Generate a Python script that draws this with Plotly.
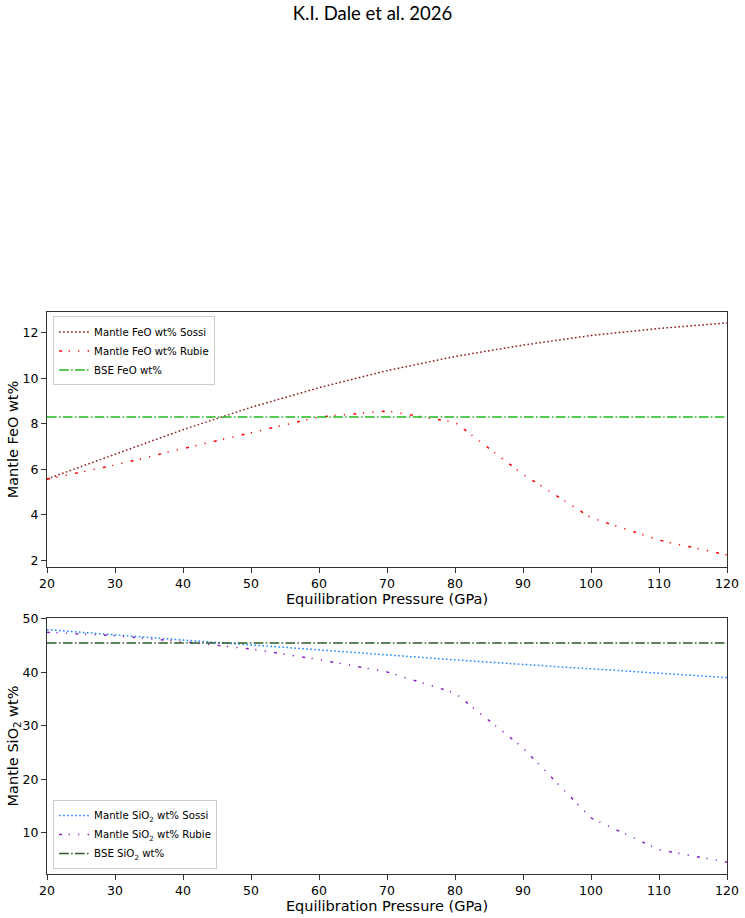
import plotly.graph_objects as go

# ---- data ----
pressure = [20, 30, 40, 50, 60, 70, 80, 90, 100, 110, 120]
feo_sossi = [5.58, 6.67, 7.74, 8.72, 9.58, 10.33, 10.95, 11.45, 11.87, 12.18, 12.42]
feo_rubie = [5.57, 6.19, 6.91, 7.60, 8.30, 8.56, 8.06, 5.78, 3.88, 2.90, 2.25]
bse_feo = 8.30
sio2_sossi = [47.95, 46.95, 46.0, 45.1, 44.15, 43.2, 42.3, 41.45, 40.6, 39.8, 39.0]
sio2_rubie = [47.45, 46.8, 45.7, 44.34, 42.35, 40.05, 36.1, 25.85, 12.77, 6.85, 4.5]
bse_sio2 = 45.45

x_ticks = [20, 30, 40, 50, 60, 70, 80, 90, 100, 110, 120]

FONT = "DejaVu Sans"
DOT = "1.6px,2.4px"
DASHDOTDOT = "3px,6.5px,1.2px,8.3px,1.2px,8.3px"
DASHDOT = "9.6px,2.4px,1.5px,2.4px"

fig = go.Figure()

# top panel
fig.add_trace(go.Scatter(x=pressure, y=feo_sossi, mode="lines", name="Mantle FeO wt% Sossi",
                         line=dict(color="#8b1a1a", width=1.5, dash=DOT),
                         xaxis="x", yaxis="y", legend="legend"))
fig.add_trace(go.Scatter(x=pressure, y=feo_rubie, mode="lines", name="Mantle FeO wt% Rubie",
                         line=dict(color="#ff0000", width=1.5, dash=DASHDOTDOT),
                         xaxis="x", yaxis="y", legend="legend"))
fig.add_trace(go.Scatter(x=[pressure[0], pressure[-1]], y=[bse_feo, bse_feo], mode="lines",
                         name="BSE FeO wt%",
                         line=dict(color="#1fb81f", width=1.5, dash=DASHDOT),
                         xaxis="x", yaxis="y", legend="legend"))

# bottom panel
fig.add_trace(go.Scatter(x=pressure, y=sio2_sossi, mode="lines", name="Mantle SiO<sub>2</sub> wt% Sossi",
                         line=dict(color="#1e88ff", width=1.5, dash=DOT),
                         xaxis="x2", yaxis="y2", legend="legend2"))
fig.add_trace(go.Scatter(x=pressure, y=sio2_rubie, mode="lines", name="Mantle SiO<sub>2</sub> wt% Rubie",
                         line=dict(color="#8a1fc4", width=1.5, dash=DASHDOTDOT),
                         xaxis="x2", yaxis="y2", legend="legend2"))
fig.add_trace(go.Scatter(x=[pressure[0], pressure[-1]], y=[bse_sio2, bse_sio2], mode="lines",
                         name="BSE SiO<sub>2</sub> wt%",
                         line=dict(color="#2d5a27", width=1.5, dash=DASHDOT),
                         xaxis="x2", yaxis="y2", legend="legend2"))

axis_common = dict(showline=True, linecolor="#333333", linewidth=1, mirror=True,
                   ticks="outside", ticklen=5, tickwidth=1, tickcolor="#333333",
                   showgrid=False, zeroline=False, automargin=False,
                   tickfont=dict(family=FONT, size=12.5, color="#000000"))

TFONT = dict(family=FONT, size=14.5, color="#000000")
xtitle = dict(text="Equilibration Pressure (GPa)", font=TFONT, standoff=1)

legend_common = dict(bgcolor="rgba(255,255,255,0.8)", bordercolor="#cccccc", borderwidth=1,
                     font=dict(family=FONT, size=10.2, color="#000000"),
                     xref="paper", yref="paper", tracegroupgap=0, itemwidth=30)

fig.update_layout(
    width=745, height=918,
    margin=dict(l=47, r=18, t=312, b=44),
    paper_bgcolor="white", plot_bgcolor="white",
    title=dict(text="K.I. Dale et al. 2026", x=0.5, xref="container", xanchor="center",
               y=1 - 14 / 918, yref="container", yanchor="middle",
               font=dict(family="Lato", size=18.5, color="#000000")),
    xaxis=dict(domain=[0, 1], range=[20, 120], tickvals=x_ticks, anchor="y",
               title=xtitle, **axis_common),
    yaxis=dict(domain=[0.5463, 1], range=[1.72, 12.9], dtick=2, anchor="x",
               title=dict(text="Mantle FeO wt%", font=TFONT, standoff=0),
               **axis_common),
    xaxis2=dict(domain=[0, 1], range=[20, 120], tickvals=x_ticks, anchor="y2",
                title=xtitle, **axis_common),
    yaxis2=dict(domain=[0, 0.4555], range=[2.3, 50.12], dtick=10, anchor="x2",
                title=dict(text="Mantle SiO<sub>2</sub> wt%", font=TFONT, standoff=0),
                **axis_common),
    legend=dict(x=0.009, y=0.992, xanchor="left", yanchor="top", **legend_common),
    legend2=dict(x=0.009, y=0.009, xanchor="left", yanchor="bottom", **legend_common),
    showlegend=True,
)

fig.write_html("out.html")
